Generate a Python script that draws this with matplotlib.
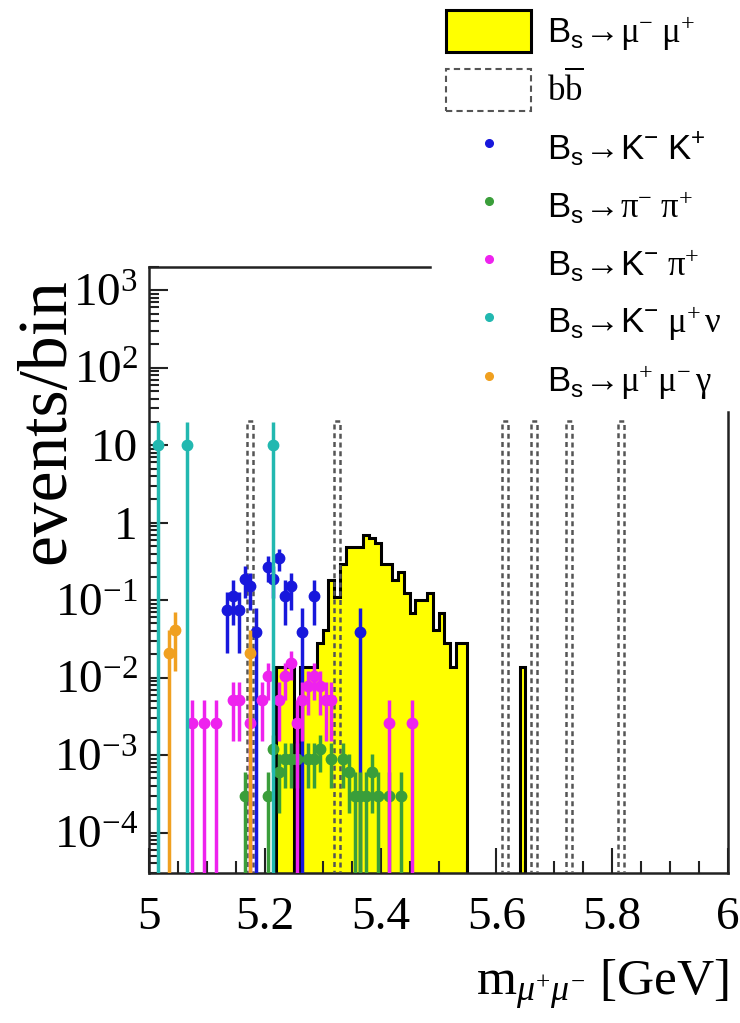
import numpy as np
import matplotlib
matplotlib.use('Agg')
import matplotlib.pyplot as plt
from matplotlib.patches import Patch
from matplotlib.lines import Line2D
from matplotlib.ticker import FixedLocator, MultipleLocator, LogLocator, NullFormatter

plt.rcParams['font.family'] = 'Liberation Serif'
plt.rcParams['mathtext.fontset'] = 'custom'
plt.rcParams['mathtext.rm'] = 'Liberation Serif'
plt.rcParams['mathtext.it'] = 'Liberation Serif:italic'
plt.rcParams['mathtext.sf'] = 'Liberation Sans'

# 10 MeV bins between 5 and 6 GeV
edges = np.linspace(5.0, 6.0, 101)

# Bs -> mu- mu+ (bin centre, events/bin)
mumu_mass = [5.225, 5.235, 5.245, 5.265, 5.275, 5.285, 5.295, 5.305, 5.315, 5.325,
             5.335, 5.345, 5.355, 5.365, 5.375, 5.385, 5.395, 5.405, 5.415, 5.425,
             5.435, 5.445, 5.455, 5.465, 5.475, 5.485, 5.495, 5.505, 5.515, 5.525,
             5.535, 5.545, 5.645]
mumu_val = [0.0138, 0.0138, 0.0138, 0.0138, 0.0138, 0.0138, 0.028, 0.041, 0.18, 0.11,
            0.29, 0.49, 0.49, 0.49, 0.70, 0.64, 0.55, 0.29, 0.29, 0.18,
            0.23, 0.125, 0.068, 0.10, 0.10, 0.125, 0.041, 0.068, 0.028, 0.0138,
            0.028, 0.028, 0.0138]

# b bbar background
bb_mass = [5.175, 5.325, 5.615, 5.665, 5.725, 5.815]
bb_val = [20.5, 20.5, 20.5, 20.5, 20.5, 20.5]

# Bs -> K- K+
kk_mass = [5.135, 5.145, 5.155, 5.165, 5.175, 5.185, 5.205, 5.215, 5.225, 5.235,
           5.245, 5.265, 5.285, 5.365]
kk_val = [0.075, 0.114, 0.075, 0.19, 0.15, 0.039, 0.27, 0.19, 0.35, 0.114,
          0.15, 0.039, 0.114, 0.039]
kk_err = [0.054, 0.066, 0.054, 0.085, 0.076, 0.039, 0.10, 0.085, 0.114, 0.066,
          0.076, 0.039, 0.066, 0.039]

# Bs -> pi- pi+
pipi_mass = [5.165, 5.205, 5.215, 5.225, 5.235, 5.245, 5.255, 5.275, 5.285, 5.295,
             5.315, 5.335, 5.345, 5.355, 5.365, 5.375, 5.385, 5.395, 5.415, 5.435]
pipi_val = [0.0003, 0.0003, 0.0012, 0.0006, 0.0009, 0.0009, 0.0009, 0.0009, 0.0009, 0.0012,
            0.0009, 0.0009, 0.0006, 0.0003, 0.0003, 0.0003, 0.0006, 0.0003, 0.0003, 0.0003]
pipi_err = [0.0003, 0.0003, 0.0006, 0.00042, 0.00052, 0.00052, 0.00052, 0.00052, 0.00052, 0.0006,
            0.00052, 0.00052, 0.00042, 0.0003, 0.0003, 0.0003, 0.00042, 0.0003, 0.0003, 0.0003]

# Bs -> K- pi+
kpi_mass = [5.075, 5.095, 5.115, 5.145, 5.155, 5.175, 5.195, 5.205, 5.225, 5.235,
            5.245, 5.255, 5.265, 5.275, 5.285, 5.295, 5.305, 5.315, 5.415, 5.455]
kpi_val = [0.0026, 0.0026, 0.0026, 0.0052, 0.0052, 0.0026, 0.0052, 0.0104, 0.0052, 0.0104,
           0.0156, 0.0026, 0.0052, 0.0078, 0.0104, 0.0078, 0.0052, 0.0052, 0.0026, 0.0026]
kpi_err = [0.0026, 0.0026, 0.0026, 0.0037, 0.0037, 0.0026, 0.0037, 0.0052, 0.0037, 0.0052,
           0.0064, 0.0026, 0.0037, 0.0045, 0.0052, 0.0045, 0.0037, 0.0037, 0.0026, 0.0026]

# Bs -> K- mu+ nu
kmunu_mass = [5.015, 5.065, 5.215]
kmunu_val = [10.0, 10.0, 10.0]
kmunu_err = [10.0, 10.0, 10.0]

# Bs -> mu+ mu- gamma
mumug_mass = [5.035, 5.045, 5.175]
mumug_val = [0.0205, 0.041, 0.0205]
mumug_err = [0.0205, 0.029, 0.0205]

ymin, ymax = 3e-5, 2000.0
floor = 1e-7

fig = plt.figure(figsize=(7.4, 10.23), dpi=100)
ax = fig.add_axes([149 / 740, 1 - 873 / 1023, 579 / 740, 606 / 1023])
ax.set_yscale('log')
ax.set_xlim(5.0, 6.0)
ax.set_ylim(ymin, ymax)

sig, _ = np.histogram(mumu_mass, bins=edges, weights=mumu_val)
sig[sig == 0] = floor
ax.stairs(sig, edges, baseline=floor, fill=True, color='#ffff00', zorder=1)
ax.stairs(sig, edges, baseline=floor, color='black', lw=2.2, zorder=2)

bb, _ = np.histogram(bb_mass, bins=edges, weights=bb_val)
bb[bb == 0] = floor
ax.stairs(bb, edges, baseline=floor, color='#555555', lw=1.8, ls=(0, (2, 1.5)), zorder=3)


def draw_points(mass, val, err, color, z):
    val = np.array(val)
    err = np.array(err)
    lo = np.minimum(err, val - floor)
    ax.errorbar(mass, val, yerr=[lo, err], fmt='o', color=color, ms=7.5,
                elinewidth=2.5, capsize=0, zorder=z)


col_kk = '#1818dc'
col_pipi = '#3a9e3a'
col_kpi = '#ee22ee'
col_kmunu = '#22b8b0'
col_mumug = '#f0a020'

draw_points(kk_mass, kk_val, kk_err, col_kk, 4)
draw_points(pipi_mass, pipi_val, pipi_err, col_pipi, 5)
draw_points(kpi_mass, kpi_val, kpi_err, col_kpi, 6)
draw_points(kmunu_mass, kmunu_val, kmunu_err, col_kmunu, 7)
draw_points(mumug_mass, mumug_val, mumug_err, col_mumug, 8)

# axes style
for s in ax.spines.values():
    s.set_linewidth(1.8)
    s.set_color('#222222')
ax.spines['top'].set_bounds(5.0, 5.485)
ax.spines['right'].set_bounds(ymin, 27)

ax.xaxis.set_major_locator(FixedLocator([5.0, 5.2, 5.4, 5.6, 5.8, 6.0]))
ax.set_xticklabels(['5', '5.2', '5.4', '5.6', '5.8', '6'])
ax.xaxis.set_minor_locator(MultipleLocator(0.05))
ax.yaxis.set_major_locator(FixedLocator([1e-4, 1e-3, 1e-2, 1e-1, 1, 10, 100, 1000]))
ax.set_yticklabels([r'$10^{-4}$', r'$10^{-3}$', r'$10^{-2}$', r'$10^{-1}$', '1', '10',
                    r'$10^{2}$', r'$10^{3}$'])
ax.yaxis.set_minor_locator(LogLocator(base=10, subs=np.arange(2, 10), numticks=20))
ax.yaxis.set_minor_formatter(NullFormatter())
ax.tick_params(axis='both', which='both', direction='in', top=False, right=False,
               width=1.5, color='#222222', labelsize=34)
ax.tick_params(axis='x', which='major', length=18, pad=17)
ax.tick_params(axis='x', which='minor', length=9)
ax.tick_params(axis='y', which='major', length=14, pad=8)
ax.tick_params(axis='y', which='minor', length=7)

fig.text(48 / 740, 1 - 421 / 1023, 'events/bin', rotation=90, ha='center', va='center',
         fontsize=50)
fig.text(728 / 740, 1 - 985 / 1023, r'$\mathrm{m}_{\mu^{+}\mu^{-}}$ [GeV]', ha='right',
         va='center', fontsize=37)

handles = [
    Patch(facecolor='#ffff00', edgecolor='black', lw=2.2),
    Patch(facecolor='white', edgecolor='#555555', ls=(0, (3, 2)), lw=1.5),
    Line2D([], [], ls='none', marker='o', ms=5.5, color=col_kk),
    Line2D([], [], ls='none', marker='o', ms=5.5, color=col_pipi),
    Line2D([], [], ls='none', marker='o', ms=5.5, color=col_kpi),
    Line2D([], [], ls='none', marker='o', ms=5.5, color=col_kmunu),
    Line2D([], [], ls='none', marker='o', ms=5.5, color=col_mumug),
]
labels = [
    r'$\mathsf{B_s}\!\rightarrow\!\mathrm{\mu^{-}\ \mu^{+}}$',
    r'$\mathrm{b\overline{b}}$',
    r'$\mathsf{B_s}\!\rightarrow\!\mathsf{K^{-}\ K^{+}}$',
    r'$\mathsf{B_s}\!\rightarrow\!\mathrm{\pi^{-}\ \pi^{+}}$',
    r'$\mathsf{B_s}\!\rightarrow\!\mathsf{K^{-}}\ \mathrm{\pi^{+}}$',
    r'$\mathsf{B_s}\!\rightarrow\!\mathsf{K^{-}}\ \mathrm{\mu^{+}\,\nu}$',
    r'$\mathsf{B_s}\!\rightarrow\!\mathrm{\mu^{+}\,\mu^{-}\,\gamma}$',
]
fig.legend(handles, labels, loc='upper left', bbox_to_anchor=(436 / 740, 1.0),
           frameon=False, fontsize=25, borderpad=0.3, borderaxespad=0,
           handlelength=2.45, handleheight=1.485, labelspacing=0.46, handletextpad=0.46)

fig.savefig('out.png', dpi=100)
